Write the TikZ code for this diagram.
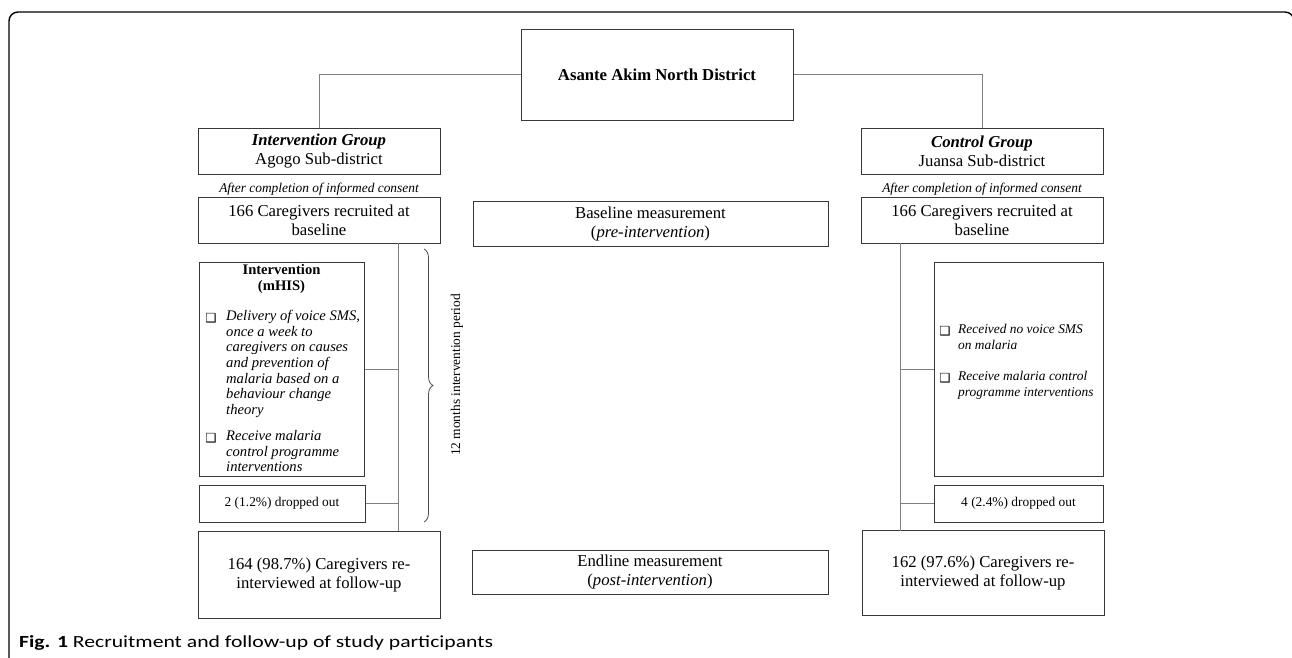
\documentclass[tikz,border=0pt]{standalone}
\usepackage{fontspec}
\usepackage{graphicx}
\setmainfont{Liberation Serif}
\newfontfamily\capfont{Carlito}
\newfontfamily\dingfont{DejaVu Sans}
\usetikzlibrary{decorations.pathreplacing}
\tikzset{
  box/.style={draw=black!78, line width=1pt, inner sep=0pt, align=center,
    font=\fontsize{16.7}{19}\selectfont},
  conn/.style={draw=black!50, line width=0.9pt},
  small/.style={inner sep=0pt, font=\fontsize{13.4}{15.5}\selectfont},
  itemL/.style={inner sep=0pt, align=left, anchor=north west, font=\fontsize{14.6}{15.7}\selectfont\itshape},
  itemR/.style={inner sep=0pt, align=left, anchor=north west, font=\fontsize{13.4}{16}\selectfont\itshape},
  chk/.style={inner sep=0pt, font=\dingfont\fontsize{12.5}{12.5}\selectfont},
}
\newcommand{\chkbox}{❑}
\begin{document}
\begin{tikzpicture}[x=1pt,y=-1pt]
\useasboundingbox (0,0) rectangle (1292,657);
% outer frame
\draw[line width=1.4pt, rounded corners=9pt] (9,12) rectangle (1294,700);

% top
\node[box, minimum width=272pt, minimum height=91pt] (top) at (657,74.5) {\textbf{Asante Akim North District}};
\node[box, minimum width=242pt, minimum height=46pt] (ig) at (319,151) {\textbf{\textit{Intervention Group}}\\Agogo Sub-district};
\node[box, minimum width=242pt, minimum height=46pt] (cg) at (982,151) {\textbf{\textit{Control Group}}\\Juansa Sub-district};
\coordinate (tl) at (319,74.5);
\coordinate (tr) at (982,74.5);
\draw[conn] (top.west) -- (tl) -- (ig.north);
\draw[conn] (top.east) -- (tr) -- (cg.north);

\node[small, font=\fontsize{13.4}{15.5}\selectfont\itshape] (cons1) at (319,189) {After completion of informed consent};
\node[small, font=\fontsize{13.4}{15.5}\selectfont\itshape] (cons2) at (982,189) {After completion of informed consent};

\node[box, minimum width=242pt, minimum height=46pt] (rec1) at (319,220) {166 Caregivers recruited at\\baseline};
\node[box, minimum width=242pt, minimum height=46pt] (rec2) at (982,220) {166 Caregivers recruited at\\baseline};
\node[box, minimum width=355pt, minimum height=45pt] (base) at (650.5,223.5) {Baseline measurement\\(\textit{pre-intervention})};

% left intervention box
\node[box, minimum width=165pt, minimum height=214pt] (mhis) at (281.5,369) {};
\node[inner sep=0pt, align=center, font=\fontsize{14.6}{16.5}\selectfont\bfseries] (mt) at (281.5,279) {Intervention\\(mHIS)};
\node[chk] (c1) at (211,318) {\chkbox};
\node[itemL] (i1) at (226,310) {Delivery of voice SMS,\\once a week to\\caregivers on causes\\and prevention of\\malaria based on a\\behaviour change\\theory};
\node[chk] (c2) at (211,438) {\chkbox};
\node[itemL] (i2) at (226,430) {Receive malaria\\control programme\\interventions};

\node[box, minimum width=166pt, minimum height=37pt, font=\fontsize{13.4}{15.5}\selectfont] (drop1) at (282,503.5) {2 (1.2\%) dropped out};

\node[box, minimum width=242pt, minimum height=87pt] (fu1) at (319,574.5) {164 (98.7\%) Caregivers re-\\interviewed at follow-up};
\node[box, minimum width=356pt, minimum height=44pt] (end) at (650,572) {Endline measurement\\(\textit{post-intervention})};

% left spine
\coordinate (ls1) at (398,243);
\coordinate (ls2) at (398,531);
\draw[conn] (ls1) -- (ls2);
\draw[conn] (mhis.east) -- (mhis.east -| ls1);
\draw[conn] (drop1.east) -- (drop1.east -| ls1);

% brace
\coordinate (b1) at (424,249);
\coordinate (b2) at (424,522);
\draw[black!70, line width=0.8pt, decorate, decoration={brace, amplitude=9pt}] (b1) -- (b2);
\node[small, rotate=90] (per) at (457,375) {12 months intervention period};

% right control box
\node[box, minimum width=169pt, minimum height=214pt] (ctrl) at (1018.5,369) {};
\node[chk] (c3) at (945,331) {\chkbox};
\node[itemR] (i3) at (958,324) {Received no voice SMS\\on malaria};
\node[chk] (c4) at (945,378) {\chkbox};
\node[itemR] (i4) at (958,371) {Receive malaria control\\programme interventions};

\node[box, minimum width=169pt, minimum height=37pt, font=\fontsize{13.4}{15.5}\selectfont] (drop2) at (1018.5,503.5) {4 (2.4\%) dropped out};
\node[box, minimum width=242pt, minimum height=85pt] (fu2) at (983,573) {162 (97.6\%) Caregivers re-\\interviewed at follow-up};

\coordinate (rs1) at (900,243);
\coordinate (rs2) at (900,531);
\draw[conn] (rs1) -- (rs2);
\draw[conn] (ctrl.west -| rs1) -- (ctrl.west);
\draw[conn] (drop2.west -| rs1) -- (drop2.west);

% caption
\node[inner sep=0pt, anchor=base west, font=\capfont\fontsize{17}{20}\selectfont] (cap) at (19,647)
  {\resizebox{474pt}{\height}{\textbf{Fig. 1} Recruitment and follow-up of study participants}};
\end{tikzpicture}
\end{document}
